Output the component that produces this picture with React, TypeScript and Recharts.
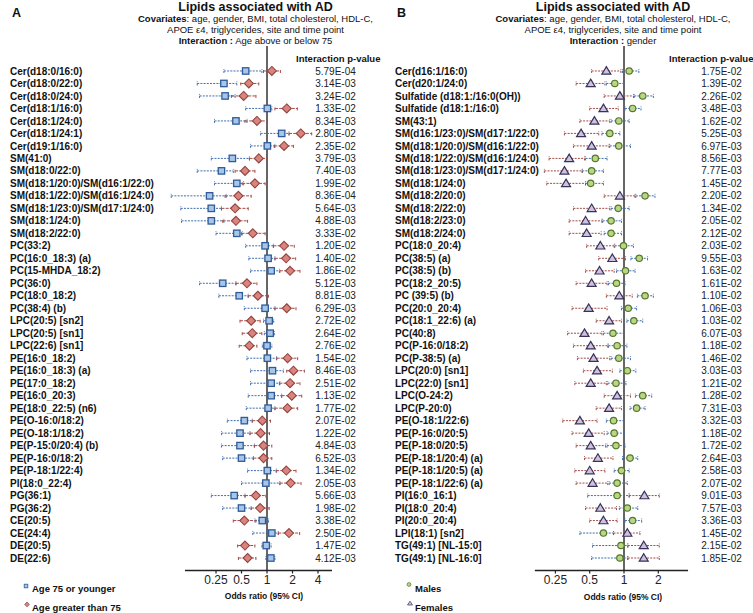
import React from 'react';
import { ScatterChart, Scatter, XAxis, YAxis, ErrorBar, ReferenceLine } from 'recharts';

const FONT = '"Liberation Sans", Arial, Helvetica, sans-serif';

// ---- Panel A: age interaction ----
const namesA = [
  'Cer(d18:0/16:0)', 'Cer(d18:0/22:0)', 'Cer(d18:0/24:0)', 'Cer(d18:1/16:0)', 'Cer(d18:1/24:0)',
  'Cer(d18:1/24:1)', 'Cer(d19:1/16:0)', 'SM(41:0)', 'SM(d18:0/22:0)', 'SM(d18:1/20:0)/SM(d16:1/22:0)',
  'SM(d18:1/22:0)/SM(d16:1/24:0)', 'SM(d18:1/23:0)/SM(d17:1/24:0)', 'SM(d18:1/24:0)', 'SM(d18:2/22:0)', 'PC(33:2)',
  'PC(16:0_18:3) (a)', 'PC(15-MHDA_18:2)', 'PC(36:0)', 'PC(18:0_18:2)', 'PC(38:4) (b)',
  'LPC(20:5) [sn2]', 'LPC(20:5) [sn1]', 'LPC(22:6) [sn1]', 'PE(16:0_18:2)', 'PE(16:0_18:3) (a)',
  'PE(17:0_18:2)', 'PE(16:0_20:3)', 'PE(18:0_22:5) (n6)', 'PE(O-16:0/18:2)', 'PE(O-18:1/18:2)',
  'PE(P-15:0/20:4) (b)', 'PE(P-16:0/18:2)', 'PE(P-18:1/22:4)', 'PI(18:0_22:4)', 'PG(36:1)',
  'PG(36:2)', 'CE(20:5)', 'CE(24:4)', 'DE(20:5)', 'DE(22:6)',
];
const pvalsA = [
  '5.79E-04', '3.14E-03', '3.24E-02', '1.33E-02', '8.34E-03', '2.80E-02', '2.35E-02', '3.79E-03', '7.40E-03', '1.99E-02',
  '8.36E-04', '5.64E-03', '4.88E-03', '3.33E-02', '1.20E-02', '1.40E-02', '1.86E-02', '5.12E-03', '8.81E-03', '6.29E-03',
  '2.72E-02', '2.64E-02', '2.76E-02', '1.54E-02', '8.46E-03', '2.51E-02', '1.13E-02', '1.77E-02', '2.07E-02', '1.22E-02',
  '4.84E-03', '6.52E-03', '1.34E-02', '2.05E-03', '5.66E-03', '1.98E-02', '3.38E-02', '2.50E-02', '1.47E-02', '4.12E-03',
];
// [lower CI, odds ratio, upper CI]
const youngA = [
  [0.31, 0.56, 0.87], [0.15, 0.31, 0.44], [0.16, 0.32, 0.42], [0.56, 1.01, 1.14], [0.24, 0.43, 0.58],
  [0.84, 1.49, 1.82], [0.64, 1.01, 1.24], [0.22, 0.39, 0.62], [0.15, 0.29, 0.4], [0.24, 0.44, 0.53],
  [0.074, 0.21, 0.33], [0.096, 0.22, 0.29], [0.098, 0.22, 0.31], [0.25, 0.44, 0.51], [0.56, 0.95, 1.19],
  [0.61, 1.03, 1.24], [0.64, 1.12, 1.4], [0.16, 0.3, 0.43], [0.27, 0.47, 0.6], [0.54, 0.95, 1.24],
  [0.91, 1.06, 1.2], [0.93, 1.09, 1.22], [0.88, 1.0, 1.14], [0.58, 1.01, 1.3], [0.64, 1.16, 1.56],
  [0.64, 1.12, 1.42], [0.6, 1.12, 1.49], [0.57, 1.03, 1.24], [0.34, 0.54, 0.67], [0.29, 0.48, 0.63],
  [0.29, 0.48, 0.71], [0.3, 0.5, 0.69], [0.59, 1.01, 1.3], [0.5, 0.97, 1.42], [0.22, 0.41, 0.55],
  [0.3, 0.5, 0.65], [0.72, 0.88, 1.04], [0.68, 1.14, 1.36], [0.87, 0.98, 1.12], [0.97, 1.11, 1.24],
];
const olderA = [
  [0.91, 1.14, 1.44], [0.49, 0.61, 0.8], [0.38, 0.53, 0.74], [1.24, 1.71, 2.28], [0.55, 0.76, 1.01],
  [1.82, 2.5, 3.37], [1.22, 1.59, 2.05], [0.62, 0.8, 1.0], [0.42, 0.55, 0.72], [0.51, 0.72, 0.95],
  [0.32, 0.46, 0.65], [0.29, 0.42, 0.6], [0.3, 0.43, 0.59], [0.5, 0.68, 0.95], [1.19, 1.59, 2.1],
  [1.24, 1.68, 2.18], [1.42, 1.87, 2.45], [0.43, 0.58, 0.76], [0.6, 0.78, 1.04], [1.24, 1.71, 2.2],
  [0.48, 0.65, 0.83], [0.51, 0.67, 0.87], [0.47, 0.62, 0.76], [1.3, 1.75, 2.3], [1.71, 2.05, 2.76],
  [1.4, 1.87, 2.45], [1.49, 1.96, 2.57], [1.24, 1.74, 2.3], [0.67, 0.88, 1.1], [0.63, 0.84, 1.07],
  [0.71, 0.91, 1.14], [0.69, 0.91, 1.14], [1.28, 1.69, 2.2], [1.42, 1.9, 2.52], [0.55, 0.74, 0.97],
  [0.65, 0.83, 1.06], [0.4, 0.54, 0.74], [1.36, 1.82, 2.43], [0.45, 0.55, 0.72], [0.46, 0.59, 0.74],
];

// ---- Panel B: gender interaction ----
const namesB = [
  'Cer(d16:1/16:0)', 'Cer(d20:1/24:0)', 'Sulfatide (d18:1:/16:0(OH))', 'Sulfatide (d18:1:/16:0)', 'SM(43:1)',
  'SM(d16:1/23:0)/SM(d17:1/22:0)', 'SM(d18:1/20:0)/SM(d16:1/22:0)', 'SM(d18:1/22:0)/SM(d16:1/24:0)', 'SM(d18:1/23:0)/SM(d17:1/24:0)', 'SM(d18:1/24:0)',
  'SM(d18:2/20:0)', 'SM(d18:2/22:0)', 'SM(d18:2/23:0)', 'SM(d18:2/24:0)', 'PC(18:0_20:4)',
  'PC(38:5) (a)', 'PC(38:5) (b)', 'PC(18:2_20:5)', 'PC (39:5) (b)', 'PC(20:0_20:4)',
  'PC(18:1_22:6) (a)', 'PC(40:8)', 'PC(P-16:0/18:2)', 'PC(P-38:5) (a)', 'LPC(20:0) [sn1]',
  'LPC(22:0) [sn1]', 'LPC(O-24:2)', 'LPC(P-20:0)', 'PE(O-18:1/22:6)', 'PE(P-16:0/20:5)',
  'PE(P-18:0/20:5)', 'PE(P-18:1/20:4) (a)', 'PE(P-18:1/20:5) (a)', 'PE(P-18:1/22:6) (a)', 'PI(16:0_16:1)',
  'PI(18:0_20:4)', 'PI(20:0_20:4)', 'LPI(18:1) [sn2]', 'TG(49:1) [NL-15:0]', 'TG(49:1) [NL-16:0]',
];
const pvalsB = [
  '1.75E-02', '1.39E-02', '2.26E-02', '3.48E-03', '1.62E-02', '5.25E-03', '6.97E-03', '8.56E-03', '7.77E-03', '1.45E-02',
  '2.20E-02', '1.34E-02', '2.05E-02', '2.12E-02', '2.03E-02', '9.55E-03', '1.63E-02', '1.61E-02', '1.10E-02', '1.06E-03',
  '1.03E-02', '6.07E-03', '1.18E-02', '1.46E-02', '3.03E-03', '1.21E-02', '1.28E-02', '7.31E-03', '3.32E-03', '1.18E-02',
  '1.72E-02', '2.64E-03', '2.58E-03', '2.07E-02', '9.01E-03', '7.57E-03', '3.36E-03', '1.45E-02', '2.15E-02', '1.85E-02',
];
const malesB = [
  [0.97, 1.11, 1.35], [0.7, 0.83, 1.0], [1.23, 1.46, 1.81], [1.02, 1.19, 1.41], [0.77, 0.9, 1.11],
  [0.64, 0.75, 0.92], [0.75, 0.9, 1.14], [0.46, 0.56, 0.71], [0.43, 0.52, 0.66], [0.46, 0.51, 0.66],
  [1.27, 1.53, 1.87], [0.77, 0.89, 1.11], [0.65, 0.77, 0.95], [0.67, 0.77, 0.95], [0.83, 0.99, 1.21],
  [1.15, 1.36, 1.61], [0.86, 1.03, 1.25], [0.73, 0.86, 1.02], [1.31, 1.53, 1.81], [0.95, 1.09, 1.29],
  [1.06, 1.22, 1.46], [0.66, 0.8, 0.99], [0.73, 0.87, 1.06], [0.77, 0.9, 1.14], [0.92, 1.07, 1.27],
  [0.72, 0.85, 1.04], [1.26, 1.46, 1.75], [1.13, 1.29, 1.53], [0.7, 0.81, 0.99], [0.71, 0.82, 1.01],
  [0.71, 0.85, 1.02], [0.97, 1.13, 1.32], [0.82, 0.95, 1.11], [0.74, 0.87, 1.07], [0.48, 0.87, 1.11],
  [0.91, 1.07, 1.32], [1.02, 1.19, 1.43], [0.41, 0.66, 0.81], [0.53, 0.94, 1.08], [0.52, 0.92, 1.08],
];
const femalesB = [
  [0.52, 0.7, 0.94], [0.38, 0.51, 0.68], [0.67, 0.92, 1.21], [0.5, 0.66, 0.89], [0.41, 0.55, 0.75],
  [0.3, 0.42, 0.6], [0.36, 0.52, 0.74], [0.22, 0.33, 0.45], [0.2, 0.3, 0.43], [0.21, 0.31, 0.46],
  [0.67, 0.92, 1.25], [0.36, 0.52, 0.75], [0.33, 0.46, 0.64], [0.33, 0.47, 0.63], [0.47, 0.62, 0.82],
  [0.6, 0.79, 1.03], [0.46, 0.61, 0.82], [0.38, 0.52, 0.71], [0.7, 0.91, 1.18], [0.35, 0.49, 0.71],
  [0.57, 0.74, 0.95], [0.32, 0.45, 0.64], [0.36, 0.51, 0.72], [0.39, 0.54, 0.75], [0.44, 0.58, 0.79],
  [0.37, 0.51, 0.7], [0.67, 0.87, 1.14], [0.57, 0.74, 0.95], [0.29, 0.41, 0.58], [0.35, 0.49, 0.67],
  [0.38, 0.51, 0.69], [0.45, 0.59, 0.8], [0.37, 0.5, 0.68], [0.38, 0.53, 0.72], [1.11, 1.51, 2.04],
  [0.46, 0.62, 0.86], [0.5, 0.66, 0.87], [0.81, 1.07, 1.38], [1.08, 1.49, 2.04], [1.08, 1.49, 2.04],
];

const ticksA = [0.25, 0.5, 1, 2, 4];
const ticksB = [0.25, 0.5, 1, 2];

const BLUE_LINE = '#3f6eb0';
const RED_LINE = '#a34c46';

function toPoints(ci: number[][]) {
  return ci.map(([lo, or, hi], i) => ({ row: i + 1, or, err: [or - lo, hi - or] }));
}

const Square = (p: any) => (
  <rect x={p.cx - 3.2} y={p.cy - 3.2} width={6.4} height={6.4} fill="#a9c5e8" stroke="#2d5c98" strokeWidth={1.3} />
);
const Diamond = (p: any) => (
  <polygon
    points={`${p.cx},${p.cy - 4.5} ${p.cx + 4.5},${p.cy} ${p.cx},${p.cy + 4.5} ${p.cx - 4.5},${p.cy}`}
    fill="#d9847e" stroke="#94433e" strokeWidth={1.1}
  />
);
const Circle = (p: any) => (
  <circle cx={p.cx} cy={p.cy} r={3.2} fill="#b9d585" stroke="#55772a" strokeWidth={1.2} />
);
const Triangle = (p: any) => (
  <polygon
    points={`${p.cx},${p.cy - 4.3} ${p.cx + 4.5},${p.cy + 3.2} ${p.cx - 4.5},${p.cy + 3.2}`}
    fill="#cbc4de" stroke="#3a3058" strokeWidth={1.2}
  />
);

const makeTick = (names: string[], pvals: string[], nameX: number, pvalX: number) => (props: any) => {
  const i = props.payload.value - 1;
  if (i < 0 || i >= names.length) return <g />;
  return (
    <g>
      <text x={nameX} y={props.y} dy="0.36em" textAnchor="start" fontFamily={FONT} fontSize={10} fontWeight="bold" fill="#111">
        {names[i]}
      </text>
      <text x={pvalX} y={props.y} dy="0.36em" textAnchor="middle" fontFamily={FONT} fontSize={10} fill="#222">
        {pvals[i]}
      </text>
    </g>
  );
};

type Series = { ci: number[][]; shape: any; line: string; dash: string };

function ForestPanel({ width, names, pvals, series, domain, ticks, axisSeg, yWidth, marginRight, nameX, pvalX }: {
  width: number; names: string[]; pvals: string[]; series: Series[];
  domain: [number, number]; ticks: number[]; axisSeg: [number, number];
  yWidth: number; marginRight: number; nameX: number; pvalX: number;
}) {
  const rowTicks = names.map((_, i) => i + 1);
  return (
    <ScatterChart width={width} height={613} margin={{ top: 46, right: marginRight, bottom: 12.5, left: 0 }}>
      <XAxis
        type="number" dataKey="or" scale="log" domain={domain} allowDataOverflow
        ticks={ticks} interval={0} tickFormatter={(v: number) => String(v)}
        axisLine={false} tickSize={3} tickMargin={2} height={30}
        tick={{ fontSize: 12, fill: '#222', fontFamily: FONT }}
        tickLine={{ stroke: '#222', strokeWidth: 1.2 }}
      />
      <YAxis
        type="number" dataKey="row" domain={[-1, 41]} reversed allowDataOverflow
        ticks={rowTicks} interval={0} width={yWidth} axisLine={false} tickLine={false}
        tick={makeTick(names, pvals, nameX, pvalX)}
      />
      <ReferenceLine x={1} stroke="#666" strokeWidth={2} />
      <ReferenceLine segment={[{ x: axisSeg[0], y: 41 }, { x: axisSeg[1], y: 41 }]} stroke="#222" strokeWidth={1.5} />
      {series.map((s, k) => (
        <Scatter key={k} data={toPoints(s.ci)} shape={s.shape} isAnimationActive={false}>
          <ErrorBar dataKey="err" direction="x" width={2} stroke={s.line} strokeWidth={1} strokeDasharray={s.dash} />
        </Scatter>
      ))}
    </ScatterChart>
  );
}

function Txt({ x, y, fs, bold, center, children }: {
  x: number; y: number; fs: number; bold?: boolean; center?: boolean; children: React.ReactNode;
}) {
  return (
    <div style={{
      position: 'absolute', left: x, top: y - 0.49 * fs, fontSize: fs, lineHeight: `${fs}px`,
      fontWeight: bold ? 'bold' : 'normal', whiteSpace: 'nowrap', color: '#111',
      transform: center ? 'translateX(-50%)' : undefined,
    }}>
      {children}
    </div>
  );
}

function Header({ cx, label, interaction }: { cx: number; label: string; interaction: string }) {
  return (
    <>
      <Txt x={cx} y={7} fs={12.5} bold center>Lipids associated with AD</Txt>
      <Txt x={cx} y={19} fs={9.5} center><b>Covariates</b>: age, gender, BMI, total cholesterol, HDL-C,</Txt>
      <Txt x={cx} y={29.8} fs={9.5} center>APOE ε4, triglycerides, site and time point</Txt>
      <Txt x={cx} y={41} fs={9.5} center><b>Interaction :</b> {interaction}</Txt>
      <Txt x={label === 'A' ? 12 : 397} y={13.5} fs={12.5} bold>{label}</Txt>
    </>
  );
}

export default function App() {
  return (
    <div style={{ position: 'relative', width: 753, height: 613, background: '#fff', fontFamily: FONT, overflow: 'hidden' }}>
      <style>{'body{margin:0} .recharts-surface{overflow:visible}'}</style>
      <div style={{ position: 'absolute', left: 0, top: 0 }}>
        <ForestPanel
          width={376} names={namesA} pvals={pvalsA}
          series={[
            { ci: youngA, shape: Square, line: BLUE_LINE, dash: '2 1.2' },
            { ci: olderA, shape: Diamond, line: RED_LINE, dash: '3 1.2' },
          ]}
          domain={[0.0625, 8]} ticks={ticksA} axisSeg={[0.1075, 5.85]}
          yWidth={165} marginRight={32.5} nameX={10} pvalX={335.5}
        />
      </div>
      <div style={{ position: 'absolute', left: 376, top: 0 }}>
        <ForestPanel
          width={377} names={namesB} pvals={pvalsB}
          series={[
            { ci: malesB, shape: Circle, line: BLUE_LINE, dash: '2 1.2' },
            { ci: femalesB, shape: Triangle, line: RED_LINE, dash: '2 1.2' },
          ]}
          domain={[0.125, 4]} ticks={ticksB} axisSeg={[0.165, 3.65]}
          yWidth={145.1} marginRight={60.4} nameX={19} pvalX={345.5}
        />
      </div>

      <Header cx={255.5} label="A" interaction="Age above or below 75" />
      <Header cx={613} label="B" interaction="gender" />

      <Txt x={296} y={58.3} fs={9.5} bold>Interaction p-value</Txt>
      <Txt x={669} y={58.3} fs={9.5} bold>Interaction p-value</Txt>

      <Txt x={264} y={596.5} fs={8.5} bold center>Odds ratio (95% CI)</Txt>
      <Txt x={623} y={597} fs={8.5} bold center>Odds ratio (95% CI)</Txt>

      {/* legends */}
      <svg style={{ position: 'absolute', left: 0, top: 0, overflow: 'visible' }} width={753} height={613}>
        <rect x={24.2} y={584.2} width={3.6} height={3.6} fill="#a9c5e8" stroke="#2d5c98" strokeWidth={0.8} />
        <polygon points="27,602 29.4,604.4 27,606.8 24.6,604.4" fill="#d9847e" stroke="#94433e" strokeWidth={0.7} />
        <circle cx={409} cy={584.5} r={1.9} fill="#b9d585" stroke="#55772a" strokeWidth={0.7} />
        <polygon points="410,601.2 412.5,605 407.5,605" fill="#cbc4de" stroke="#3a3058" strokeWidth={0.7} />
      </svg>
      <Txt x={32} y={589} fs={9.5} bold>Age 75 or younger</Txt>
      <Txt x={32} y={608} fs={9.5} bold>Age greater than 75</Txt>
      <Txt x={415} y={589} fs={9.5} bold>Males</Txt>
      <Txt x={415} y={608} fs={9.5} bold>Females</Txt>
    </div>
  );
}
